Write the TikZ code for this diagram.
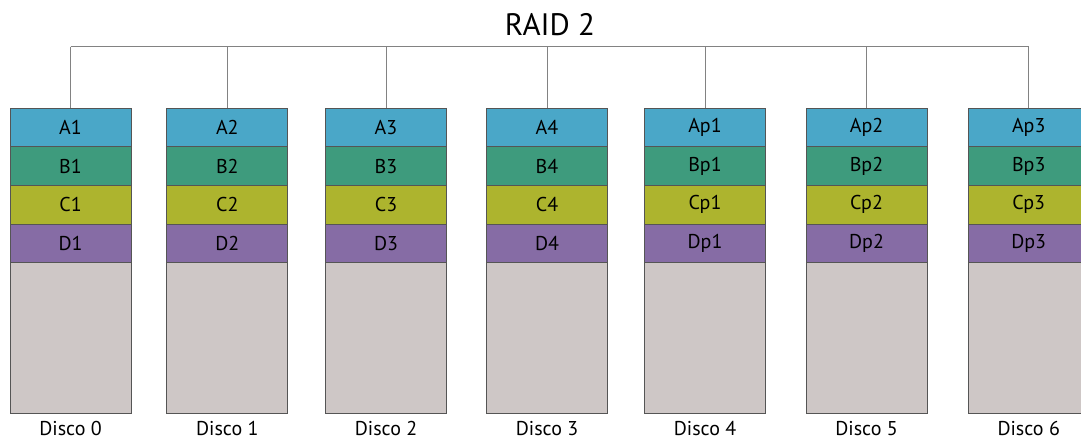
\documentclass[tikz,border=0pt]{standalone}
\usepackage{fontspec}
\setmainfont{PT Sans}
\definecolor{blkA}{RGB}{74,167,200}
\definecolor{blkB}{RGB}{62,155,125}
\definecolor{blkC}{RGB}{173,180,46}
\definecolor{blkD}{RGB}{134,108,165}
\definecolor{blkE}{RGB}{206,199,198}
\definecolor{edge}{RGB}{85,85,85}
\definecolor{bus}{RGB}{130,130,130}
\begin{document}
\begin{tikzpicture}[x=1pt,y=-1pt,
  blk/.style={draw=edge,line width=1pt,inner sep=0pt,anchor=north west,
    minimum width=121pt,minimum height=38.7pt,font=\fontsize{20}{24}\selectfont},
  free/.style={blk,minimum height=150.4pt},
  disklabel/.style={font=\fontsize{20}{24}\selectfont,inner sep=0pt,
    text depth=0pt,anchor=base},
  wire/.style={draw=bus,line width=1pt}]
\useasboundingbox (0,0) rectangle (1081,439);
\clip (0,0) rectangle (1081,439);
\node[font=\fontsize{31}{36}\selectfont,inner sep=0pt] (title) at (550,25) {RAID 2};
\foreach \i/\x/\a/\b/\c/\d in {0/9.5/A1/B1/C1/D1, 1/166.3/A2/B2/C2/D2,
    2/325/A3/B3/C3/D3, 3/486/A4/B4/C4/D4, 4/644/Ap1/Bp1/Cp1/Dp1,
    5/805.5/Ap2/Bp2/Cp2/Dp2, 6/967.7/Ap3/Bp3/Cp3/Dp3} {
  \node[free,fill=blkE] (e\i) at (\x,262.3) {};
  \node[blk,fill=blkD] (d\i) at (\x,223.6) {\d};
  \node[blk,fill=blkC] (c\i) at (\x,184.9) {\c};
  \node[blk,fill=blkB] (b\i) at (\x,146.2) {\b};
  \node[blk,fill=blkA] (a\i) at (\x,107.5) {\a};
  \node[disklabel] (l\i) at ([yshift=-22pt]e\i.south) {Disco \i};
  \coordinate (bus\i) at (a\i.north |- 0,46.7);
  \draw[wire] (bus\i) -- (a\i.north);
}
\draw[wire] (bus0) -- (bus6);
\end{tikzpicture}
\end{document}
